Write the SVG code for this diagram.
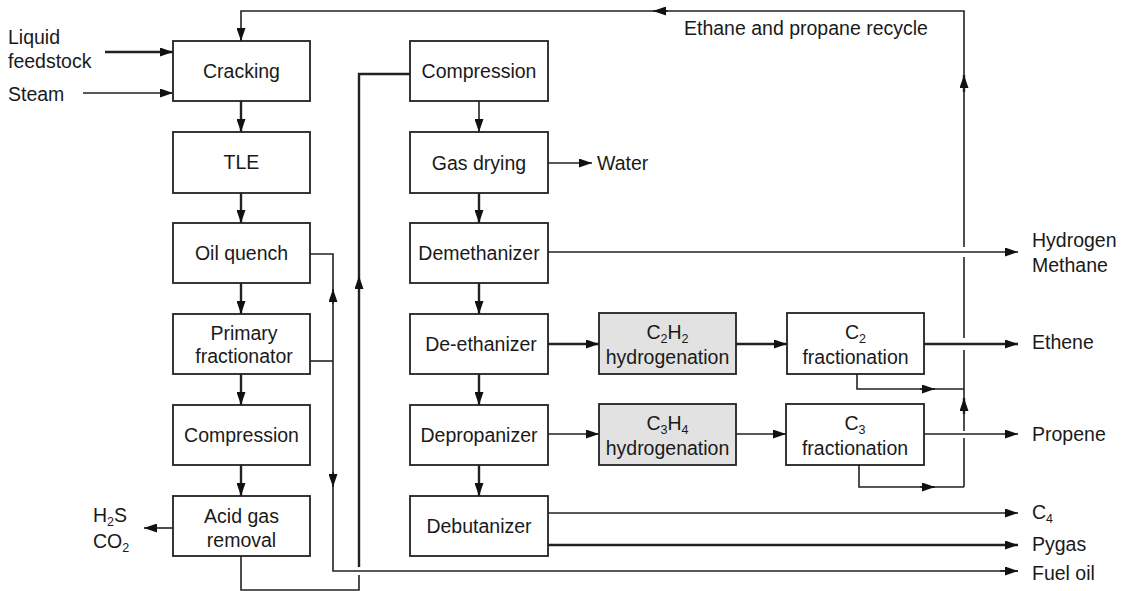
<svg xmlns="http://www.w3.org/2000/svg" width="1124" height="591" viewBox="0 0 1124 591">
  <style>
    .box { fill: #ffffff; stroke: #222222; stroke-width: 1.8; }
    .gray { fill: #e2e2e2; }
    .lbl { font-family: "Liberation Sans", Arial, sans-serif; font-size: 19.5px; fill: #1a1a1a; }
    .c { text-anchor: middle; }
    .sub { font-size: 12.5px; }
    .ln { fill: none; stroke: #222222; stroke-width: 1.6; }
    .thick { stroke-width: 2.4; }
    .arr { marker-end: url(#ah); }
  </style>
  <defs>
    <marker id="ah" markerUnits="userSpaceOnUse" markerWidth="13" markerHeight="9" refX="13" refY="4.5" orient="auto">
      <path d="M0,0 L13,4.5 L0,9 z" fill="#111111"/>
    </marker>
  </defs>

  <rect width="1124" height="591" fill="#ffffff"/>

  <!-- connectors -->
  <g id="connectors">
    <!-- feeds into cracking -->
    <path class="ln thick arr" d="M105,52 H173"/>
    <path class="ln arr" d="M83,93 H173"/>
    <!-- left column flow -->
    <path class="ln thick arr" d="M241,101 V132"/>
    <path class="ln thick arr" d="M241,193 V223"/>
    <path class="ln thick arr" d="M241,283 V314"/>
    <path class="ln thick arr" d="M241,374 V405"/>
    <path class="ln thick arr" d="M241,465 V496"/>
    <path class="ln arr" d="M173,528 H144"/>
    <!-- acid gas removal to compression -->
    <path class="ln" d="M241,556 V590 H359 V575"/>
    <path class="ln thick" d="M359,567 V74 H410"/>
    <path class="ln arr" d="M359,292 V276"/>
    <!-- heavy streams to fuel oil -->
    <path class="ln" d="M310,254 H333 V571 H1018"/>
    <path class="ln arr" d="M1000,571 H1018"/>
    <path class="ln" d="M310,361 H333"/>
    <path class="ln arr" d="M333,304 V289"/>
    <path class="ln arr" d="M333,472 V487"/>
    <!-- middle column flow -->
    <path class="ln arr" d="M479,101 V132"/>
    <path class="ln arr" d="M548,163 H592"/>
    <path class="ln thick arr" d="M479,193 V223"/>
    <path class="ln arr" d="M548,252 H1018"/>
    <path class="ln thick arr" d="M479,283 V314"/>
    <path class="ln thick arr" d="M548,344 H599"/>
    <path class="ln thick arr" d="M736,344 H787"/>
    <path class="ln thick arr" d="M924,344 H1018"/>
    <path class="ln thick arr" d="M479,374 V405"/>
    <path class="ln arr" d="M548,434 H599"/>
    <path class="ln arr" d="M736,434 H786"/>
    <path class="ln arr" d="M924,434 H1018"/>
    <path class="ln thick arr" d="M479,465 V496"/>
    <path class="ln arr" d="M548,513 H1018"/>
    <path class="ln thick arr" d="M548,545 H1018"/>
    <!-- fractionator bottoms to recycle -->
    <path class="ln" d="M857,374 V389 H964"/>
    <path class="ln arr" d="M920,389 H935"/>
    <path class="ln" d="M859,465 V487 H964"/>
    <path class="ln arr" d="M920,487 H935"/>
    <!-- ethane and propane recycle -->
    <path class="ln" d="M964,487 V438"/>
    <path class="ln" d="M964,431 V350"/>
    <path class="ln" d="M964,338 V257"/>
    <path class="ln" d="M964,247 V11 H241 V41"/>
    <path class="ln thick arr" d="M964,414 V398"/>
    <path class="ln thick arr" d="M964,92 V75"/>
    <path class="ln arr" d="M668,11 H653"/>
    <path class="ln arr" d="M241,28 V41"/>
  </g>

  <!-- left column -->
  <g id="cracking">
    <rect class="box" x="173" y="41" width="137" height="60"/>
    <text class="lbl c" x="241.5" y="78">Cracking</text>
  </g>
  <g id="tle">
    <rect class="box" x="173" y="132" width="137" height="61"/>
    <text class="lbl c" x="241.5" y="169">TLE</text>
  </g>
  <g id="oil-quench">
    <rect class="box" x="173" y="223" width="137" height="60"/>
    <text class="lbl c" x="241.5" y="260">Oil quench</text>
  </g>
  <g id="primary-fractionator">
    <rect class="box" x="173" y="314" width="137" height="60"/>
    <text class="lbl c" x="244" y="340">Primary</text>
    <text class="lbl c" x="244" y="363">fractionator</text>
  </g>
  <g id="compression-1">
    <rect class="box" x="173" y="405" width="137" height="60"/>
    <text class="lbl c" x="241.5" y="442">Compression</text>
  </g>
  <g id="acid-gas-removal">
    <rect class="box" x="173" y="496" width="137" height="60"/>
    <text class="lbl c" x="241.5" y="523">Acid gas</text>
    <text class="lbl c" x="241.5" y="547">removal</text>
  </g>

  <!-- middle column -->
  <g id="compression-2">
    <rect class="box" x="410" y="41" width="138" height="60"/>
    <text class="lbl c" x="479" y="78">Compression</text>
  </g>
  <g id="gas-drying">
    <rect class="box" x="410" y="132" width="138" height="61"/>
    <text class="lbl c" x="479" y="170">Gas drying</text>
  </g>
  <g id="demethanizer">
    <rect class="box" x="410" y="223" width="138" height="60"/>
    <text class="lbl c" x="479" y="260">Demethanizer</text>
  </g>
  <g id="de-ethanizer">
    <rect class="box" x="410" y="314" width="138" height="60"/>
    <text class="lbl c" x="481" y="351">De-ethanizer</text>
  </g>
  <g id="depropanizer">
    <rect class="box" x="410" y="405" width="138" height="60"/>
    <text class="lbl c" x="479" y="442">Depropanizer</text>
  </g>
  <g id="debutanizer">
    <rect class="box" x="410" y="496" width="138" height="60"/>
    <text class="lbl c" x="479" y="533">Debutanizer</text>
  </g>

  <!-- hydrogenation and fractionation -->
  <g id="c2h2-hydrogenation">
    <rect class="box gray" x="599" y="313" width="137" height="61"/>
    <text class="lbl c" x="667.5" y="339">C<tspan class="sub" dy="4">2</tspan><tspan dy="-4">H</tspan><tspan class="sub" dy="4">2</tspan></text>
    <text class="lbl c" x="667.5" y="364">hydrogenation</text>
  </g>
  <g id="c3h4-hydrogenation">
    <rect class="box gray" x="599" y="404" width="137" height="61"/>
    <text class="lbl c" x="667.5" y="430">C<tspan class="sub" dy="4">3</tspan><tspan dy="-4">H</tspan><tspan class="sub" dy="4">4</tspan></text>
    <text class="lbl c" x="667.5" y="455">hydrogenation</text>
  </g>
  <g id="c2-fractionation">
    <rect class="box" x="787" y="313" width="137" height="61"/>
    <text class="lbl c" x="855.5" y="339">C<tspan class="sub" dy="4">2</tspan></text>
    <text class="lbl c" x="855.5" y="364">fractionation</text>
  </g>
  <g id="c3-fractionation">
    <rect class="box" x="786" y="404" width="138" height="61"/>
    <text class="lbl c" x="855" y="430">C<tspan class="sub" dy="4">3</tspan></text>
    <text class="lbl c" x="855" y="455">fractionation</text>
  </g>

  <!-- stream labels -->
  <g id="labels">
    <text class="lbl" x="8" y="44">Liquid</text>
    <text class="lbl" x="8" y="67.5">feedstock</text>
    <text class="lbl" x="8" y="101">Steam</text>
    <text class="lbl" x="93" y="522">H<tspan class="sub" dy="4">2</tspan><tspan dy="-4">S</tspan></text>
    <text class="lbl" x="93" y="548">CO<tspan class="sub" dy="4">2</tspan></text>
    <text class="lbl" x="597" y="170">Water</text>
    <text class="lbl" x="684" y="35">Ethane and propane recycle</text>
    <text class="lbl" x="1032" y="247">Hydrogen</text>
    <text class="lbl" x="1032" y="271.5">Methane</text>
    <text class="lbl" x="1032" y="348.5">Ethene</text>
    <text class="lbl" x="1032" y="441">Propene</text>
    <text class="lbl" x="1032" y="519">C<tspan class="sub" dy="4">4</tspan></text>
    <text class="lbl" x="1032" y="551">Pygas</text>
    <text class="lbl" x="1032" y="580">Fuel oil</text>
  </g>
</svg>
